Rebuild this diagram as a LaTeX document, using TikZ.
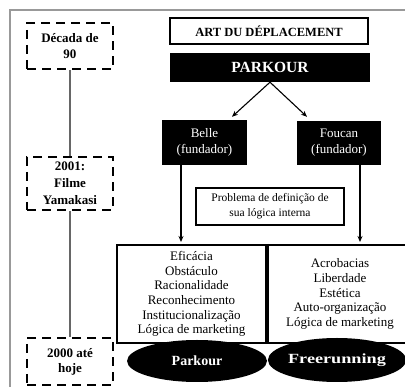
\documentclass[tikz,border=0pt]{standalone}
\usepackage{fontspec}
\setmainfont{Liberation Serif}
\usetikzlibrary{shapes.geometric,arrows.meta}
\tikzset{
  dbox/.style={draw=black, line width=2.6pt, dash pattern=on 9pt off 6pt, minimum width=86pt, inner sep=0pt, align=center, font=\fontsize{13}{16}\selectfont\bfseries},
  blackbox/.style={fill=black, text=white, inner sep=0pt, align=center},
  cell/.style={draw=black, line width=2pt, inner sep=0pt, align=center, minimum width=149pt, minimum height=98pt, font=\fontsize{13}{14.6}\selectfont},
  oval/.style={ellipse, fill=black, text=white, inner sep=0pt, font=\fontsize{14}{16}\selectfont\bfseries},
  arr/.style={line width=1.1pt, -{Stealth[length=6pt,width=5pt]}},
  tl/.style={draw=gray!80!black, line width=1.2pt},
}
\begin{document}
\begin{tikzpicture}[x=1pt,y=-1pt]
\useasboundingbox (0,0) rectangle (405,387);
% frame
\draw[gray!80, line width=1.5pt] (10,387) -- (10,10) -- (405,10);
% timeline
\node[dbox, minimum height=46pt] (dec) at (70,46) {Década de\\90};
\node[dbox, minimum height=53pt, font=\fontsize{13}{17}\selectfont\bfseries] (y2001) at (70,183.5) {2001:\\Filme\\Yamakasi};
\node[dbox, minimum height=47pt, font=\fontsize{13}{15}\selectfont\bfseries] (y2000) at (70,361.5) {2000 até\\hoje};
\draw[tl] (dec.south) -- (y2001.north);
\draw[tl] (y2001.south) -- (y2000.north);
% top boxes
\node[draw=black, line width=2.5pt, minimum width=198pt, minimum height=26pt, inner sep=0pt, font=\fontsize{12.5}{14}\selectfont\bfseries] (art) at (269,31) {ART DU DÉPLACEMENT};
\node[blackbox, minimum width=200pt, minimum height=29pt, font=\fontsize{15.5}{17}\selectfont\bfseries] (pk) at (270,67.5) {PARKOUR};
\node[blackbox, minimum width=85pt, minimum height=45pt, font=\fontsize{13}{16}\selectfont] (belle) at (204.5,142.5) {Belle\\(fundador)};
\node[blackbox, minimum width=84pt, minimum height=44pt, font=\fontsize{13}{16}\selectfont] (foucan) at (339,143) {Foucan\\(fundador)};
\draw[arr] (pk.south) -- ([xshift=27.5pt,yshift=3pt]belle.north);
\draw[arr] (pk.south) -- ([xshift=-32pt,yshift=4pt]foucan.north);
% problem box
\node[draw=black, line width=2pt, minimum width=148pt, minimum height=37pt, inner sep=0pt, align=center, font=\fontsize{11.5}{15}\selectfont] (prob) at (270,206.5) {Problema de definição de\\sua lógica interna};
% cells
\node[cell] (cellL) at (191.5,294) {Eficácia\\Obstáculo\\Racionalidade\\Reconhecimento\\Institucionalização\\Lógica de marketing};
\node[cell, minimum width=148pt] (cellR) at (340,294) {Acrobacias\\Liberdade\\Estética\\Auto-organização\\Lógica de marketing};
\draw[line width=3pt] (cellL.north east) -- (cellL.south east);
\coordinate (b1) at ([xshift=-23.5pt]belle.south);
\coordinate (f1) at ([xshift=21pt]foucan.south);
\draw[arr] (b1) -- ([yshift=2pt]b1 |- cellL.north);
\draw[arr] (f1) -- ([yshift=2pt]f1 |- cellR.north);
% ovals
\node[oval, minimum width=140pt, minimum height=42pt] (ovP) at (197,361) {Parkour};
\node[oval, minimum width=134pt, minimum height=44pt] (ovF) at (337,360) {\scalebox{1.3}[1]{Freerunning}};
\end{tikzpicture}
\end{document}
